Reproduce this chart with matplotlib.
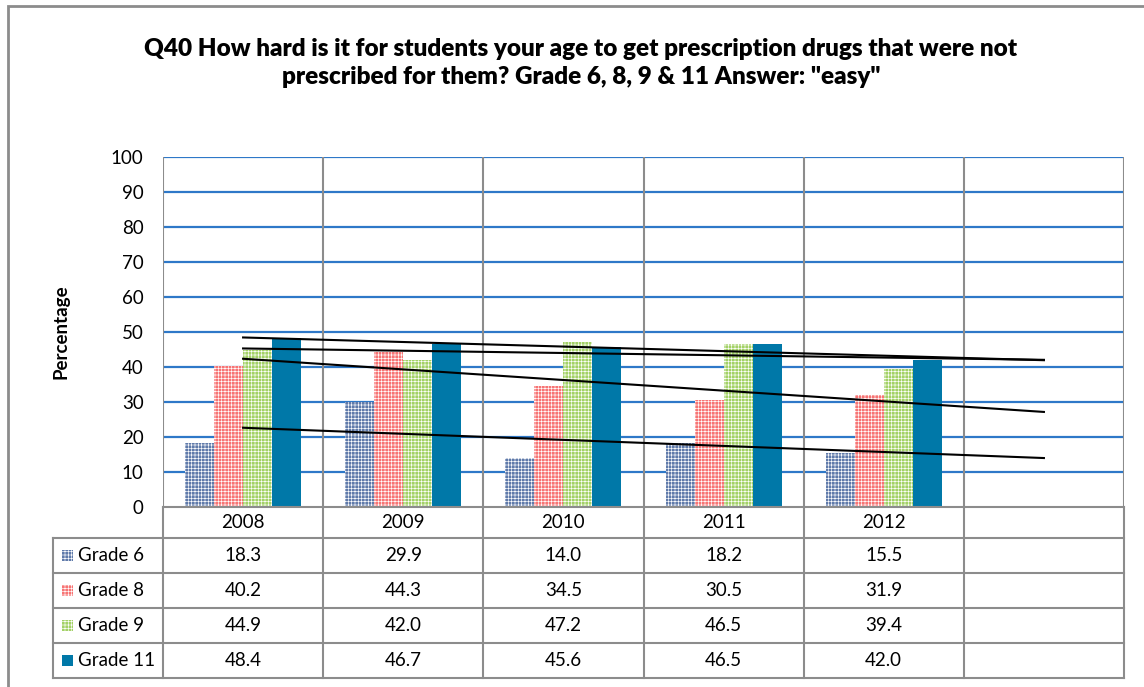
import matplotlib
matplotlib.use('Agg')
import matplotlib.pyplot as plt
import numpy as np
from matplotlib.patches import Rectangle
from matplotlib.lines import Line2D
from matplotlib.transforms import blended_transform_factory

years = ['2008', '2009', '2010', '2011', '2012']
grades = ['Grade 6', 'Grade 8', 'Grade 9', 'Grade 11']
grade6 = [18.3, 29.9, 14.0, 18.2, 15.5]
grade8 = [40.2, 44.3, 34.5, 30.5, 31.9]
grade9 = [44.9, 42.0, 47.2, 46.5, 39.4]
grade11 = [48.4, 46.7, 45.6, 46.5, 42.0]
series = [grade6, grade8, grade9, grade11]

colors = ['#5f7aaa', '#f77474', '#a3d166', '#0078a8']
hatches = ['+++++', '+++++', '+++++', None]

W, H = 1144, 687
plt.rcParams['font.family'] = ['Lato', 'DejaVu Sans']
plt.rcParams['hatch.linewidth'] = 0.45

fig = plt.figure(figsize=(W / 100, H / 100), dpi=100)

def fx(x):
    return x / W

def fy(y):
    return 1 - y / H

# plot area in pixels
L, R, T, B = 163, 1124, 157, 507
ax = fig.add_axes([fx(L), fy(B), fx(R - L), fy(T) - fy(B)])

grid_gray = '#8c8c8c'
ncat = len(years) + 1
x = np.arange(len(years))
bw = 0.181
for i, vals in enumerate(series):
    ax.bar(x + (i - 1.5) * bw, vals, width=bw, color=colors[i],
           hatch=hatches[i], edgecolor='white' if hatches[i] else colors[i],
           linewidth=0, zorder=3)

# linear trendlines with one period forward forecast
xt = np.arange(ncat)
for vals in series:
    k, b = np.polyfit(x, vals, 1)
    ax.plot([xt[0], xt[-1]], [k * xt[0] + b, k * xt[-1] + b], color='black', lw=1.5, zorder=4)

ax.set_xlim(-0.5, ncat - 0.5)
ax.set_ylim(0, 100)
ax.set_yticks(range(0, 101, 10))
ax.set_xticks([])
for yv in range(10, 101, 10):
    ax.axhline(yv, color='#2e78c8', lw=1.6, zorder=1)
for xv in np.arange(ncat + 1) - 0.5:
    ax.axvline(xv, color=grid_gray, lw=1.5, zorder=1)
for s in ax.spines.values():
    s.set_visible(False)
ax.tick_params(axis='y', length=0, pad=14, labelsize=13.5)
ax.set_ylabel('Percentage', fontsize=13.5, fontweight='bold', labelpad=30)

# data table under the axis
tr = blended_transform_factory(ax.transData, fig.transFigure)
rows_y = [507, 538, 573, 608, 643, 678]
tl = 53
for k, yy in enumerate(rows_y):
    x0 = L if k == 0 else tl
    fig.add_artist(Line2D([fx(x0), fx(R)], [fy(yy), fy(yy)], color=grid_gray, lw=1.5))
for xv in np.arange(ncat + 1) - 0.5:
    ax.plot([xv, xv], [fy(B), fy(rows_y[-1])], transform=tr, color=grid_gray,
            lw=1.5, clip_on=False)
fig.add_artist(Line2D([fx(tl), fx(tl)], [fy(rows_y[1]), fy(rows_y[-1])], color=grid_gray, lw=1.5))

for j, yr in enumerate(years):
    ax.text(j, fy((rows_y[0] + rows_y[1]) / 2), yr, transform=tr, ha='center',
            va='center', fontsize=13.5)
for i, vals in enumerate(series):
    yc = fy((rows_y[i + 1] + rows_y[i + 2]) / 2)
    for j, v in enumerate(vals):
        ax.text(j, yc, f'{v:.1f}', transform=tr, ha='center', va='center', fontsize=13.5)
    fig.add_artist(Rectangle((fx(62), yc - 5.5 / H), 11 / W, 11 / H, facecolor=colors[i],
                             hatch='+++++' if hatches[i] else None,
                             edgecolor='white' if hatches[i] else colors[i], lw=0))
    fig.text(fx(78), yc, grades[i], ha='left', va='center', fontsize=13.5)

fig.text(fx(581), fy(63), 'Q40 How hard is it for students your age to get prescription drugs that were not\n'
         'prescribed for them? Grade 6, 8, 9 & 11 Answer: "easy"', ha='center', va='center',
         fontsize=17.5, fontweight='heavy', linespacing=1.35)

# outer chart border
fig.add_artist(Rectangle((fx(8), fy(700)), fx(1150 - 8), fy(6) - fy(700), fill=False,
                         edgecolor=grid_gray, lw=2))

fig.savefig('out.png', dpi=100)
